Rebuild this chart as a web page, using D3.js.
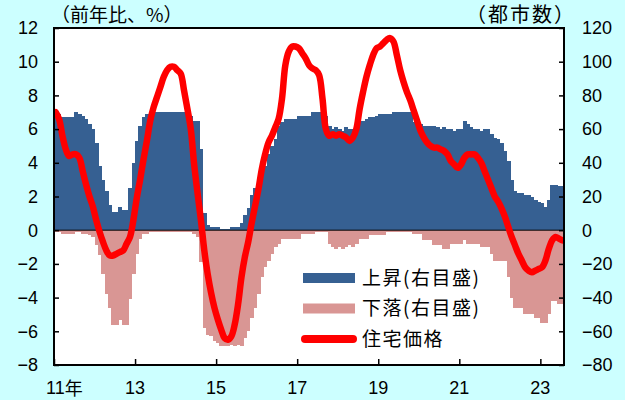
<!DOCTYPE html>
<html>
<head>
<meta charset="utf-8">
<script src="https://cdn.jsdelivr.net/npm/d3@7"></script>
<style>
  body { margin: 0; background: #ccffff; }
  svg { display: block; font-family: "Liberation Sans", Arial, sans-serif; }
  .jp { font-family: "Noto Sans CJK JP", sans-serif; }
</style>
</head>
<body>
<svg id="chart" width="625" height="400"></svg>
<script>
// monthly, Jan 2011 .. Jul 2023
const startYear = 2011

// number of cities with rising prices (right axis)
const upCities = [
  70, 69, 67, 67, 67, 67, 70, 69, 68, 66, 63, 60,
  52, 38, 30, 23, 15, 11, 11, 14, 12, 12, 25, 40,
  53, 62, 67, 69, 70, 70, 70, 70, 70, 70, 70, 70,
  70, 70, 70, 68, 68, 65, 65, 48, 10, 3, 2, 2,
  2, 1, 1, 1, 2, 2, 2, 4, 9, 13, 21, 25,
  28, 32, 38, 45, 50, 54, 62, 64, 66, 66, 66, 66,
  68, 68, 68, 68, 70, 70, 70, 68, 68, 62, 60, 61,
  60, 59, 61, 60, 60, 62, 65, 65, 66, 67, 67, 68,
  69, 69, 69, 69, 70, 70, 70, 70, 70, 70, 64, 63,
  63, 62, 62, 62, 62, 61, 60, 61, 60, 60, 59, 60,
  60, 65, 63, 61, 60, 60, 59, 60, 60, 57, 55, 54,
  52, 47, 41, 30, 23, 22, 22, 21, 21, 20, 18, 17,
  16, 14, 18, 27, 27, 26, 26
]

// number of cities with falling prices (right axis, shown negative)
const downCities = [
  -1, -1, -2, -2, -2, -2, -1, -1, -2, -2, -3, -4,
  -9, -15, -26, -38, -46, -56, -56, -53, -56, -56, -41, -26,
  -14, -5, -2, -2, -1, -1, -1, -1, -1, -1, -1, -1,
  -1, -1, -1, -1, -1, -2, -4, -19, -58, -62, -63, -66,
  -67, -69, -69, -69, -68, -69, -68, -69, -64, -60, -52, -46,
  -38, -28, -22, -18, -14, -10, -8, -5, -5, -5, -5, -5,
  -5, -2, -2, -2, -2, -1, -1, -1, -1, -8, -10, -11,
  -10, -11, -10, -9, -10, -8, -5, -5, -5, -3, -3, -3,
  -3, -3, -1, -1, -1, -1, -1, -1, -1, -1, -2, -2,
  -2, -6, -6, -6, -9, -9, -9, -11, -11, -8, -8, -8,
  -8, -6, -8, -8, -8, -8, -10, -10, -10, -14, -18, -18,
  -18, -18, -28, -40, -46, -46, -46, -50, -50, -50, -52, -52,
  -55, -55, -50, -42, -42, -44, -44
]

// housing price, y/y % (left axis)
const housePrice = [
  7.0, 6.6, 5.6, 4.8, 4.4, 4.5, 4.5, 4.3, 3.5, 2.7, 2.0, 1.4,
  0.6, -0.1, -0.7, -1.2, -1.5, -1.5, -1.4, -1.3, -1.2, -0.8, -0.4, 0.6,
  1.9, 3.0, 4.2, 5.3, 6.5, 7.3, 7.9, 8.5, 9.1, 9.5, 9.7, 9.7,
  9.5, 9.3, 8.3, 7.2, 6.0, 3.9, 2.2, 0.6, -1.2, -2.6, -3.7, -4.6,
  -5.3, -5.9, -6.4, -6.5, -6.3, -5.6, -4.4, -2.8, -1.6, -0.7, 0.4, 1.4,
  2.4, 3.6, 4.5, 5.2, 5.6, 6.1, 6.6, 7.8, 9.8, 10.6, 10.9, 10.9,
  10.8, 10.5, 10.2, 9.8, 9.6, 9.5, 9.2, 7.8, 6.0, 5.6, 5.7, 5.6,
  5.7, 5.6, 5.5, 5.3, 5.5, 6.0, 7.2, 8.2, 9.1, 9.8, 10.4, 10.8,
  10.9, 11.1, 11.3, 11.4, 11.2, 10.4, 9.5, 8.8, 8.2, 7.7, 7.1, 6.5,
  5.9, 5.5, 5.2, 5.0, 4.9, 4.9, 4.8, 4.7, 4.5, 4.1, 3.9, 3.7,
  3.9, 4.3, 4.5, 4.5, 4.5, 4.3, 4.0, 3.5, 3.0, 2.5, 2.0, 1.7,
  1.3, 0.8, 0.2, -0.4, -0.9, -1.4, -1.8, -2.2, -2.4, -2.5, -2.4, -2.3,
  -2.2, -1.8, -1.1, -0.6, -0.4, -0.5, -0.6
]

const xTickYears = [2011, 2013, 2015, 2017, 2019, 2021, 2023]
const xTickLabels = ['11年', '13', '15', '17', '19', '21', '23']
const leftTicks = [-8, -6, -4, -2, 0, 2, 4, 6, 8, 10, 12]
const rightTicks = [-80, -60, -40, -20, 0, 20, 40, 60, 80, 100, 120]

const legendItems = [
  { label: '上昇(右目盛)', color: '#366092', kind: 'bar' },
  { label: '下落(右目盛)', color: '#d99694', kind: 'bar' },
  { label: '住宅価格', color: '#ff0000', kind: 'line' }
]

const plotLeft = 54, plotRight = 564, plotTop = 28, plotBottom = 365
const monthCount = housePrice.length

const svg = d3.select('#chart')

const x = d3.scaleLinear()
    .domain([startYear, startYear + monthCount / 12])
    .range([plotLeft, plotRight])
const yL = d3.scaleLinear().domain([-8, 12]).range([plotBottom, plotTop])
const yR = d3.scaleLinear().domain([-80, 120]).range([plotBottom, plotTop])

const monthX = i => x(startYear + i / 12)

// plot background
svg.append('rect')
    .attr('x', plotLeft).attr('y', plotTop)
    .attr('width', plotRight - plotLeft).attr('height', plotBottom - plotTop)
    .attr('fill', '#fff')

svg.append('clipPath').attr('id', 'plotClip')
  .append('rect')
    .attr('x', plotLeft).attr('y', plotTop)
    .attr('width', plotRight - plotLeft).attr('height', plotBottom - plotTop)

const plot = svg.append('g').attr('clip-path', 'url(#plotClip)')

// bars
const drawBars = (values, color) => {
  plot.append('g')
      .attr('fill', color)
      .attr('shape-rendering', 'crispEdges')
    .selectAll('rect')
    .data(values)
    .join('rect')
      .attr('x', (d, i) => monthX(i))
      .attr('width', (d, i) => monthX(i + 1) - monthX(i) + 0.6)
      .attr('y', d => Math.min(yR(d), yR(0)))
      .attr('height', d => Math.abs(yR(d) - yR(0)))
}
drawBars(upCities, '#366092')
drawBars(downCities, '#d99694')

// zero line
plot.append('line')
    .attr('x1', plotLeft).attr('x2', plotRight)
    .attr('y1', yL(0)).attr('y2', yL(0))
    .attr('stroke', '#000').attr('stroke-width', 1)

// price line
const line = d3.line()
    .x((d, i) => x(startYear + (i + 0.5) / 12))
    .y(d => yL(d))
    .curve(d3.curveCatmullRom)

plot.append('path')
    .datum(housePrice)
    .attr('d', line)
    .attr('fill', 'none')
    .attr('stroke', '#ff0000')
    .attr('stroke-width', 6.5)
    .attr('stroke-linejoin', 'round')
    .attr('stroke-linecap', 'round')

// axes (ticks point inward)
svg.append('g')
    .attr('transform', `translate(${plotLeft},0)`)
    .call(d3.axisRight(yL).tickValues(leftTicks).tickSize(5).tickFormat(''))
    .call(g => g.select('.domain').remove())
    .call(g => g.selectAll('.tick line').attr('stroke-width', 1.5))

svg.append('g')
    .attr('transform', `translate(${plotRight},0)`)
    .call(d3.axisLeft(yR).tickValues(rightTicks).tickSize(5).tickFormat(''))
    .call(g => g.select('.domain').remove())
    .call(g => g.selectAll('.tick line').attr('stroke-width', 1.5))

svg.append('g')
    .attr('transform', `translate(0,${plotBottom})`)
    .call(d3.axisTop(x).tickValues(xTickYears).tickSize(6).tickFormat(''))
    .call(g => g.select('.domain').remove())
    .call(g => g.selectAll('.tick line').attr('stroke-width', 1.5))

// frame
svg.append('rect')
    .attr('x', plotLeft).attr('y', plotTop)
    .attr('width', plotRight - plotLeft).attr('height', plotBottom - plotTop)
    .attr('fill', 'none').attr('stroke', '#000').attr('stroke-width', 2)

// tick labels
svg.append('g')
    .attr('font-size', 18)
    .selectAll('text')
    .data(leftTicks)
    .join('text')
      .attr('x', 38)
      .attr('y', d => yL(d))
      .attr('dy', '0.35em')
      .attr('text-anchor', 'end')
      .text(d => d < 0 ? '−' + Math.abs(d) : d)

svg.append('g')
    .attr('font-size', 18)
    .selectAll('text')
    .data(rightTicks)
    .join('text')
      .attr('x', 582)
      .attr('y', d => yR(d))
      .attr('dy', '0.35em')
      .text(d => d < 0 ? '−' + Math.abs(d) : d)

const xLabels = svg.append('g')
    .attr('font-size', 18)
    .selectAll('text')
    .data(xTickYears)
    .join('text')
      .attr('x', d => x(d))
      .attr('y', 394)
      .attr('text-anchor', 'middle')
      .text((d, i) => i === 0 ? null : xTickLabels[i])

// first label carries the year mark
const first = xLabels.filter((d, i) => i === 0)
first.attr('text-anchor', 'start').attr('x', x(xTickYears[0]) - 8)
first.append('tspan').text(xTickLabels[0].slice(0, 2))
first.append('tspan').attr('class', 'jp').attr('dy', 1).text(xTickLabels[0].slice(2))

// axis titles
svg.append('text')
    .attr('class', 'jp')
    .attr('x', 51).attr('y', 22)
    .attr('font-size', 19)
    .text('（前年比、%）')

svg.append('text')
    .attr('class', 'jp')
    .attr('x', 576).attr('y', 22)
    .attr('font-size', 20)
    .attr('letter-spacing', 2)
    .attr('text-anchor', 'end')
    .text('（都市数）')

// legend
const legend = svg.append('g').attr('transform', 'translate(303,278)')
legendItems.forEach((item, i) => {
  const g = legend.append('g').attr('transform', `translate(0,${i * 30.5})`)
  if (item.kind === 'bar') {
    g.append('rect')
        .attr('x', 0).attr('y', -5)
        .attr('width', 52).attr('height', 10)
        .attr('fill', item.color)
  } else {
    g.append('line')
        .attr('x1', 2).attr('x2', 50)
        .attr('stroke', item.color)
        .attr('stroke-width', 8)
        .attr('stroke-linecap', 'round')
  }
  g.append('text')
      .attr('class', 'jp')
      .attr('x', 59)
      .attr('dy', '0.36em')
      .attr('font-size', 19)
      .attr('letter-spacing', 1.5)
      .text(item.label)
})
</script>
</body>
</html>
